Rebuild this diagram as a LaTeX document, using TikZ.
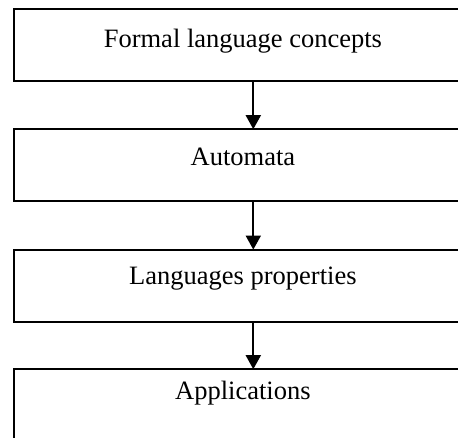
\documentclass[tikz,border=0pt]{standalone}
\usepackage{fontspec}
\setmainfont{Liberation Serif}
\usetikzlibrary{arrows.meta}
\begin{document}
\begin{tikzpicture}[x=1pt,y=-1pt,
  stage/.style={draw=black, line width=1.8pt, rectangle, inner sep=0pt,
    minimum width=458pt, minimum height=72pt, anchor=north west,
    font=\fontsize{26.5}{30}\selectfont},
  flow/.style={draw=black, line width=1.8pt,
    -{Triangle[length=14pt,width=15pt]}, shorten >=-0.9pt}]
  \useasboundingbox (0,0) rectangle (458,437);
  % the four stages, stacked top to bottom
  \node[stage, text height=38pt, text depth=34pt] (concepts) at (13,8.3) {Formal language concepts};
  \node[stage, text height=36pt, text depth=36pt] (automata) at (13,128.3) {Automata};
  \node[stage, text height=35pt, text depth=37pt] (props) at (13,248.7) {Languages properties};
  \node[stage, text height=30pt, text depth=42pt] (apps) at (13,368.3) {Applications};
  % shared axis of the downward arrows
  \coordinate (axis) at (253.3,0);
  \draw[flow] (concepts.south -| axis) -- (automata.north -| axis);
  \draw[flow] (automata.south -| axis) -- (props.north -| axis);
  \draw[flow] (props.south -| axis) -- (apps.north -| axis);
\end{tikzpicture}
\end{document}
